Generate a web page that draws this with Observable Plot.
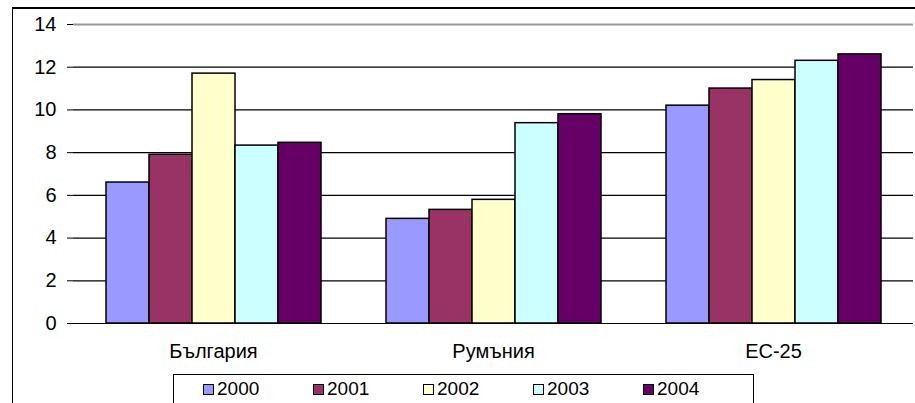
<!DOCTYPE html>
<html><head><meta charset="utf-8">
<script src="https://cdn.jsdelivr.net/npm/d3@7"></script>
<script src="https://cdn.jsdelivr.net/npm/@observablehq/plot@0.6"></script>
<style>
body{margin:0;background:#fff;font-family:"Liberation Sans",Arial,sans-serif;}
#wrap{position:relative;width:915px;height:403px;overflow:hidden;background:#fff;}
#border{position:absolute;left:12px;top:7px;width:1000px;height:500px;border-left:1px solid #000;border-top:2px solid #000;box-sizing:border-box;}
#chart{position:absolute;left:0;top:0;}
#legend{position:absolute;left:173px;top:374px;width:581px;height:60px;border:1px solid #000;box-sizing:border-box;padding-left:29px;padding-top:3px;display:flex;align-items:flex-start;background:#fff;}
.it{width:121px;height:22px;display:flex;align-items:center;font-size:19px;color:#000;line-height:22px;}
.sw{display:inline-block;width:9px;height:9px;border:1px solid #000;margin-right:3px;}
</style></head>
<body><div id="wrap"><div id="border"></div><div id="chart"></div><div id="legend"></div></div>
<script>
const countries = ["България", "Румъния", "ЕС-25"];
const years = ["2000", "2001", "2002", "2003", "2004"];
const bulgaria = [6.6, 7.9, 11.7, 8.33, 8.46];
const romania = [4.9, 5.32, 5.79, 9.38, 9.8];
const eu25 = [10.2, 11.0, 11.4, 12.3, 12.6];
const colors = ["#9999FF", "#993366", "#FFFFCC", "#CCFFFF", "#660066"];
const yTicks = [0, 2, 4, 6, 8, 10, 12, 14];
const gridTicks = [2, 4, 6, 8, 10, 12];

const series = [bulgaria, romania, eu25];
const data = [];
countries.forEach((c, ci) => years.forEach((y, yi) => data.push({country: c, year: y, value: series[ci][yi]})));

function decor(index, scales, values, dims) {
  const g = d3.create("svg:g");
  const left = dims.marginLeft, right = dims.width - dims.marginRight;
  const y0 = scales.y(0), yTop = scales.y(14);
  for (const i of index) {
    g.append("line").attr("x1", left).attr("x2", left).attr("y1", y0).attr("y2", y0 + 5).attr("stroke", "#000");
    if (i === 0) {
      g.append("line").attr("x1", left).attr("x2", left).attr("y1", yTop).attr("y2", y0).attr("stroke", "#000");
    }
    if (i === countries.length - 1) {
      g.append("line").attr("x1", right).attr("x2", right).attr("y1", yTop).attr("y2", y0).attr("stroke", "#999").attr("stroke-width", 1.5);
    }
  }
  return g.node();
}

const chart = Plot.plot({
  width: 915, height: 365,
  marginLeft: 72, marginRight: 1, marginTop: 24, marginBottom: 42,
  style: {fontFamily: "'Liberation Sans', Arial, sans-serif", fontSize: "20px", color: "#000", background: "transparent"},
  fx: {domain: countries, padding: 0, label: null},
  x: {domain: years, paddingInner: 0, paddingOuter: 0.75, axis: null},
  y: {domain: [0, 14], label: null},
  color: {domain: years, range: colors},
  marks: [
    Plot.ruleY(gridTicks, {stroke: "#000", strokeWidth: 1.2}),
    Plot.ruleY([14], {stroke: "#999", strokeWidth: 2}),
    Plot.barY(data, {fx: "country", x: "year", y: "value", fill: "year", stroke: "#000", strokeWidth: 1.5}),
    Plot.ruleY([0], {stroke: "#000", strokeWidth: 1.2}),
    Plot.axisY({ticks: yTicks, tickSize: 6, tickPadding: 11, label: null, stroke: "#000", fontSize: 20}),
    Plot.axisFx({anchor: "bottom", tickSize: 0, tickPadding: 20, label: null, fontSize: 20}),
    Plot.dot(countries, {fx: d => d, render: decor})
  ]
});
document.getElementById("chart").appendChild(chart);

const legend = document.getElementById("legend");
years.forEach((y, i) => {
  const it = document.createElement("span");
  it.className = "it";
  const sw = document.createElement("span");
  sw.className = "sw";
  sw.style.background = colors[i];
  it.appendChild(sw);
  it.appendChild(document.createTextNode(y));
  legend.appendChild(it);
});
</script>
</body></html>
